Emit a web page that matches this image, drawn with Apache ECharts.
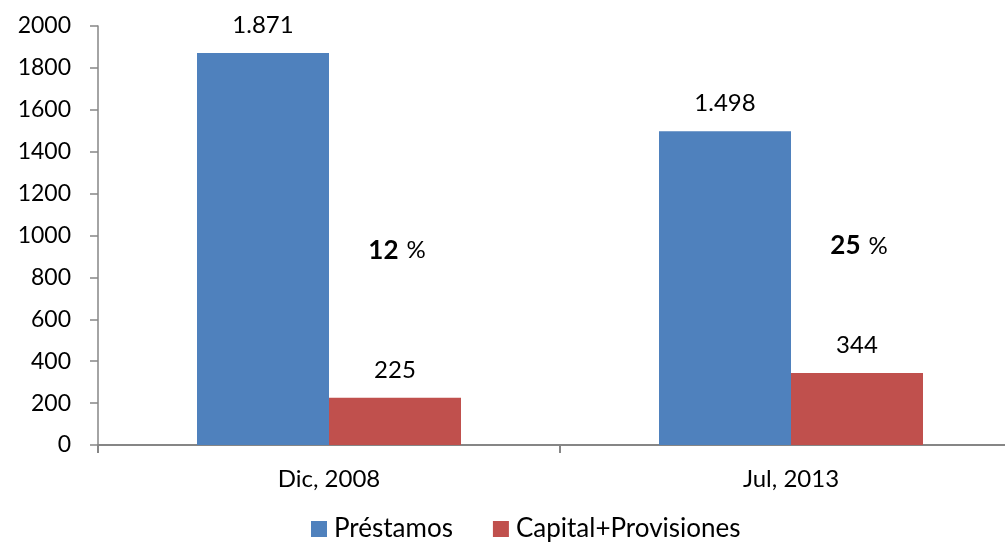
<!DOCTYPE html>
<html>
<head>
<meta charset="utf-8">
<script src="https://cdn.jsdelivr.net/npm/echarts@6/dist/echarts.min.js"></script>
<style>
    html, body { margin: 0; padding: 0; background: #fff; }
    #chart { width: 1005px; height: 544px; }
</style>
</head>
<body>
<div id="chart"></div>
<script>
    // datos
    var categorias = ['Dic, 2008', 'Jul, 2013']
    var prestamos = [1871, 1498]
    var capital = [225, 344]
    var porcentajes = ['12', '25']
    var yTicks = [0, 200, 400, 600, 800, 1000, 1200, 1400, 1600, 1800, 2000]
    // altura (en unidades del eje) donde van las etiquetas de porcentaje
    var alturaPct = [930, 950]

    var fuente = 'Lato'
    function miles(v) {
        return String(v).replace(/\B(?=(\d{3})+(?!\d))/g, '.')
    }

    var chart = echarts.init(document.getElementById('chart'))
    chart.setOption({
        animation: false,
        textStyle: { fontFamily: fuente },
        grid: { left: 98, right: -17, top: 26, bottom: 99, outerBoundsMode: 'none' },
        legend: {
            bottom: -3,
            left: 306,
            itemWidth: 16,
            itemHeight: 16,
            itemGap: 40,
            icon: 'rect',
            textStyle: { fontSize: 26, color: '#000', fontFamily: fuente, padding: [0, 0, 0, 2] },
            data: ['Préstamos', 'Capital+Provisiones']
        },
        xAxis: {
            type: 'category',
            data: categorias,
            axisLine: { lineStyle: { color: '#868686', width: 2 } },
            axisTick: { show: true, length: 8, lineStyle: { color: '#868686', width: 2 } },
            axisLabel: { fontSize: 24, color: '#000', margin: 22, fontFamily: fuente }
        },
        yAxis: {
            type: 'value',
            min: yTicks[0],
            max: yTicks[yTicks.length - 1],
            interval: 200,
            splitLine: { show: false },
            axisLine: { show: true, lineStyle: { color: '#868686', width: 1.5 } },
            axisTick: { show: true, length: 8, lineStyle: { color: '#868686', width: 1.5 } },
            axisLabel: {
                fontSize: 23, color: '#000', margin: 27, fontFamily: fuente,
                formatter: function (v) { return String(v) }
            }
        },
        series: [
            {
                name: 'Préstamos',
                type: 'bar',
                data: prestamos,
                barWidth: 132,
                barGap: '0%',
                itemStyle: { color: '#4F81BD' },
                label: {
                    show: true,
                    position: 'top',
                    distance: 16,
                    fontSize: 24,
                    color: '#000',
                    formatter: function (p) { return miles(p.value) }
                }
            },
            {
                name: 'Capital+Provisiones',
                type: 'bar',
                data: capital,
                barWidth: 132,
                barGap: '0%',
                itemStyle: { color: '#C0504D' },
                label: {
                    show: true,
                    position: 'top',
                    distance: 16,
                    fontSize: 24,
                    color: '#000',
                    formatter: function (p) { return miles(p.value) }
                },
                markPoint: {
                    symbol: 'circle',
                    symbolSize: 1,
                    itemStyle: { color: 'rgba(0,0,0,0)' },
                    data: porcentajes.map(function (p, i) {
                        return {
                            coord: [categorias[i], alturaPct[i]],
                            value: p,
                            label: {
                                show: true,
                                position: 'inside',
                                offset: [2, 0],
                                formatter: '{b|' + p + '}{s|}{n|%}',
                                rich: {
                                    b: { fontSize: 26, fontWeight: 'bold', color: '#000', fontFamily: fuente },
                                    s: { width: 8 },
                                    n: { fontSize: 24, color: '#000', fontFamily: fuente }
                                }
                            }
                        }
                    })
                }
            }
        ]
    })
</script>
</body>
</html>
